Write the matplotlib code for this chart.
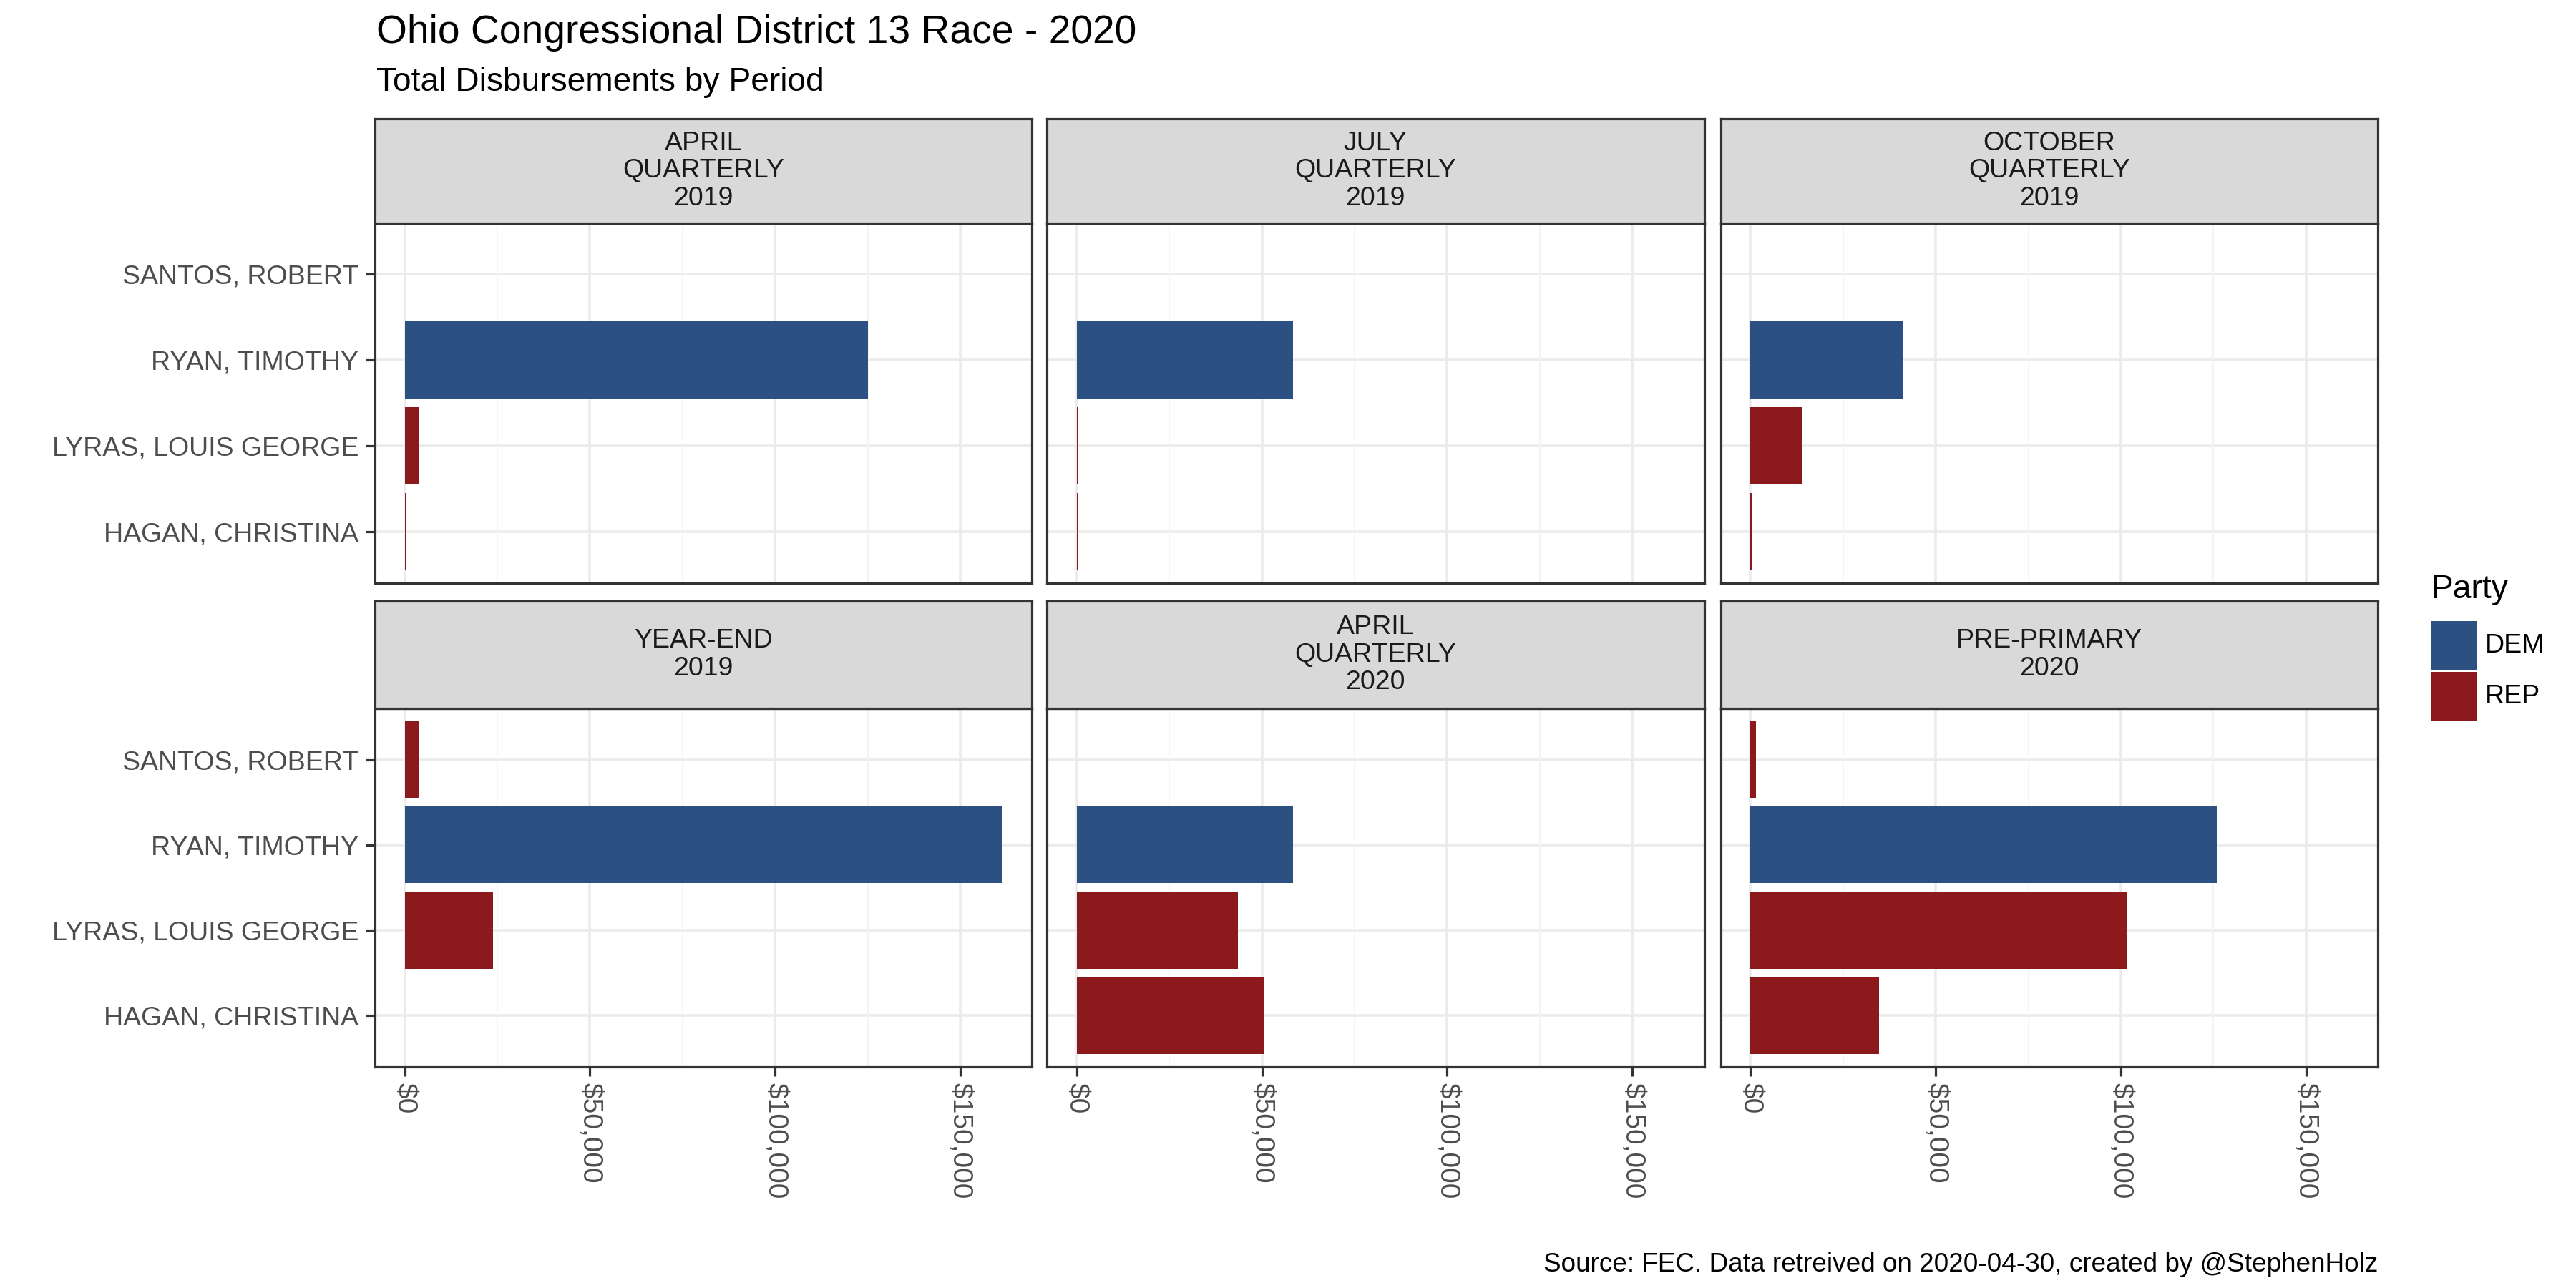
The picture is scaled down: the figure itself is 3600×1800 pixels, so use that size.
import numpy as np
import matplotlib
matplotlib.use("Agg")
import matplotlib.pyplot as plt
from matplotlib.patches import Rectangle
from matplotlib.ticker import FuncFormatter, FixedLocator

plt.rcParams['font.family'] = ['Liberation Sans', 'DejaVu Sans']

# ---------------- data ----------------
candidates = ["HAGAN, CHRISTINA", "LYRAS, LOUIS GEORGE", "RYAN, TIMOTHY", "SANTOS, ROBERT"]
parties = ["REP", "REP", "DEM", "REP"]
periods = ["APRIL\nQUARTERLY\n2019", "JULY\nQUARTERLY\n2019", "OCTOBER\nQUARTERLY\n2019",
           "YEAR-END\n2019", "APRIL\nQUARTERLY\n2020", "PRE-PRIMARY\n2020"]
nan = np.nan
apr_q_2019 = [450, 4000, 125000, nan]
jul_q_2019 = [400, 150, 58300, nan]
oct_q_2019 = [250, 14100, 41000, nan]
year_end_2019 = [nan, 23900, 161300, 4000]
apr_q_2020 = [50600, 43500, 58400, nan]
pre_primary_2020 = [34700, 101500, 125800, 1400]
period_values = [apr_q_2019, jul_q_2019, oct_q_2019, year_end_2019, apr_q_2020, pre_primary_2020]

x_ticks = [0, 50000, 100000, 150000]
x_minor = [25000, 75000, 125000]
party_colors = {"DEM": "#2D5082", "REP": "#8C1A1D"}
legend_parties = ["DEM", "REP"]

title = "Ohio Congressional District 13 Race - 2020"
subtitle = "Total Disbursements by Period"
caption = "Source: FEC. Data retreived on 2020-04-30, created by @StephenHolz"

# ---------------- layout ----------------
W, H = 1560.0, 780.0
fig = plt.figure(figsize=(15.6, 7.8), dpi=3600 / 15.6)
fig.patch.set_facecolor("white")

col_x = [227, 634, 1042]
col_w = 398
rows = [dict(strip_top=72, strip_bot=135, panel_bot=353),
        dict(strip_top=364, strip_bot=429, panel_bot=646)]

all_max = np.nanmax([np.nanmax(v) for v in period_values])
pad = all_max * 0.05
xlim = (-pad, all_max + pad)
ylim = (0.4, len(candidates) + 0.6)

dark = "#333333"
for i, (lab, vals) in enumerate(zip(periods, period_values)):
    r, c = divmod(i, 3)
    R = rows[r]
    x0 = col_x[c] / W
    w = col_w / W
    # panel
    ax = fig.add_axes([x0, 1 - R["panel_bot"] / H, w, (R["panel_bot"] - R["strip_bot"]) / H])
    ax.set_facecolor("white")
    ax.set_xlim(*xlim)
    ax.set_ylim(*ylim)
    ypos = np.arange(1, len(candidates) + 1)
    for yy in ypos:
        ax.axhline(yy, color="#EBEBEB", lw=1.1, zorder=0)
    for xm in x_minor:
        ax.axvline(xm, color="#F4F4F4", lw=0.6, zorder=0)
    for xt in x_ticks:
        ax.axvline(xt, color="#EBEBEB", lw=1.1, zorder=0)
    vals_arr = np.array(vals, dtype=float)
    cols = [party_colors[p] for p in parties]
    mask = ~np.isnan(vals_arr)
    ax.barh(ypos[mask], vals_arr[mask], height=0.9,
            color=[cc for cc, m in zip(cols, mask) if m], zorder=2, linewidth=0)
    for s in ax.spines.values():
        s.set_color(dark)
        s.set_linewidth(1.0)
        s.set_zorder(5)
    ax.xaxis.set_major_locator(FixedLocator(x_ticks))
    ax.xaxis.set_major_formatter(FuncFormatter(lambda v, p: "${:,.0f}".format(v)))
    ax.set_yticks(ypos)
    ax.set_yticklabels(candidates)
    ax.tick_params(axis="both", colors=dark, length=4, width=1.0,
                   labelcolor="#4D4D4D", labelsize=11.7, pad=3)
    ax.tick_params(axis="x", labelsize=12.2)
    if r == 0:
        ax.tick_params(axis="x", bottom=False, labelbottom=False)
    else:
        for t in ax.get_xticklabels():
            t.set_rotation(270)
            t.set_ha("center")
            t.set_va("top")
    if c != 0:
        ax.tick_params(axis="y", left=False, labelleft=False)
    # strip
    sax = fig.add_axes([x0, 1 - R["strip_bot"] / H, w, (R["strip_bot"] - R["strip_top"]) / H])
    sax.set_facecolor("#D9D9D9")
    sax.set_xticks([])
    sax.set_yticks([])
    for s in sax.spines.values():
        s.set_color(dark)
        s.set_linewidth(1.0)
    sax.text(0.5, 0.5, lab, ha="center", va="center", fontsize=11.7,
             color="#1A1A1A", linespacing=1.12, transform=sax.transAxes)

# titles
fig.text(228 / W, 1 - 20 / H, title, fontsize=17.2, ha="left", va="center", color="black")
fig.text(228 / W, 1 - 50 / H, subtitle, fontsize=14.4, ha="left", va="center", color="black")
fig.text(1440 / W, 1 - 766 / H, caption, fontsize=11.5, ha="right", va="center", color="black")

# legend
fig.text(1472 / W, 1 - 357 / H, "Party", fontsize=14.4, ha="left", va="center", color="black")
key_top = 376
key_h = 30
for k, p in enumerate(legend_parties):
    top = key_top + k * (key_h + 1)
    fig.patches.append(Rectangle((1472 / W, 1 - (top + key_h) / H), 28 / W, key_h / H,
                                 transform=fig.transFigure, facecolor=party_colors[p],
                                 edgecolor="none"))
    fig.text(1505 / W, 1 - (top + key_h / 2) / H, p, fontsize=11.7, ha="left",
             va="center", color="black")

fig.savefig("out.png", dpi=3600 / 15.6, facecolor="white")
